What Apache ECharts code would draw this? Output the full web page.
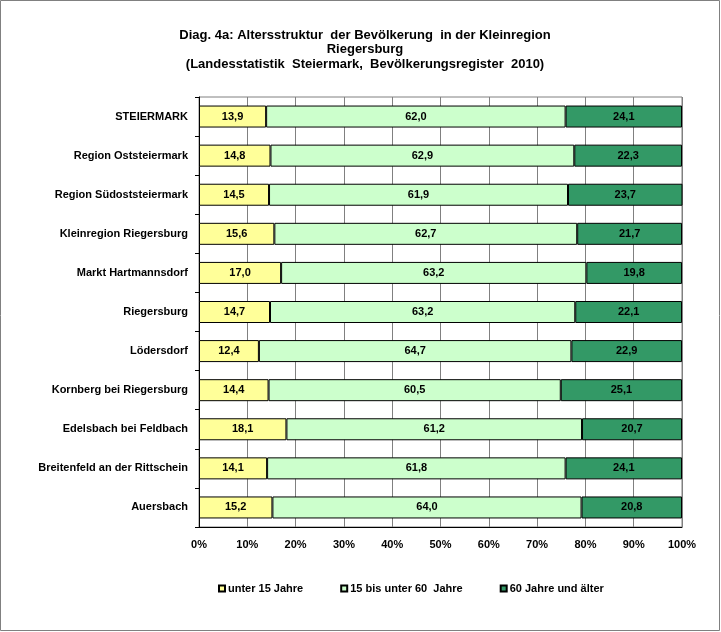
<!DOCTYPE html>
<html><head><meta charset="utf-8">
<script src="https://cdn.jsdelivr.net/npm/echarts@6/dist/echarts.min.js"></script>
<style>html,body{margin:0;padding:0;background:#fff}#c{width:721px;height:632px}</style>
</head><body><div id="c"></div>
<script>
const categories = ["STEIERMARK","Region Oststeiermark","Region Südoststeiermark","Kleinregion Riegersburg","Markt Hartmannsdorf","Riegersburg","Lödersdorf","Kornberg bei Riegersburg","Edelsbach bei Feldbach","Breitenfeld an der Rittschein","Auersbach"];
const under15 = [13.9,14.8,14.5,15.6,17.0,14.7,12.4,14.4,18.1,14.1,15.2];
const from15to60 = [62.0,62.9,61.9,62.7,63.2,63.2,64.7,60.5,61.2,61.8,64.0];
const over60 = [24.1,22.3,23.7,21.7,19.8,22.1,22.9,25.1,20.7,24.1,20.8];
const seriesNames = ["unter 15 Jahre","15 bis unter 60  Jahre","60 Jahre und älter"];
const colors = ["#FFFF99","#CCFFCC","#339966"];
const font = "'Liberation Sans', Arial, sans-serif";
const chart = echarts.init(document.getElementById('c'));
const mk = (name, data, color) => ({
  name, type:'bar', stack:'s', data, barWidth:22,
  itemStyle:{color, borderColor:'#000', borderWidth:1},
  label:{show:true, position:'inside', color:'#000', fontWeight:'bold', fontSize:11, fontFamily:font,
    formatter:p=>p.value.toFixed(1).replace('.',',')}
});
chart.setOption({
  animation:false,
  graphic:[{type:'rect', shape:{x:0.5,y:0.5,width:719,height:630}, style:{fill:'none', stroke:'#808080', lineWidth:1}}],
  title:{text:'Diag. 4a: Altersstruktur  der Bevölkerung  in der Kleinregion\nRiegersburg\n(Landesstatistik  Steiermark,  Bevölkerungsregister  2010)',
    left:360, textAlign:'center', top:23,
    textStyle:{fontFamily:font, fontWeight:'bold', fontSize:13, lineHeight:14.5, color:'#000'}},
  legend:{bottom:33, left:213, itemGap:37, itemWidth:6, itemHeight:6, icon:'rect',
    textStyle:{fontFamily:font, fontWeight:'bold', fontSize:11, color:'#000', padding:[0,0,0,-2]},
    data:seriesNames},
  grid:{left:199, right:39, top:97, bottom:105, show:true, borderColor:'#808080', borderWidth:1},
  xAxis:{type:'value', min:0, max:100, interval:10,
    axisLabel:{formatter:'{value}%', fontFamily:font, fontWeight:'bold', fontSize:11, color:'#000', margin:12},
    axisLine:{show:true, lineStyle:{color:'#000'}}, axisTick:{show:false},
    splitLine:{show:true, lineStyle:{color:'#808080', width:1}}},
  yAxis:{type:'category', data:categories, inverse:true,
    axisLine:{lineStyle:{color:'#000'}},
    axisTick:{show:true, inside:false, length:4, lineStyle:{color:'#000'}},
    axisLabel:{fontFamily:font, fontWeight:'bold', fontSize:11, color:'#000', margin:11}},
  series:[mk(seriesNames[0], under15, colors[0]), mk(seriesNames[1], from15to60, colors[1]), mk(seriesNames[2], over60, colors[2])]
});
</script></body></html>
